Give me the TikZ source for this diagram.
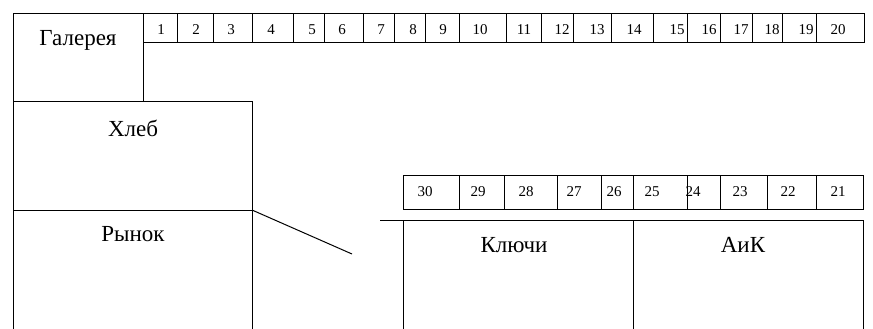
\documentclass[tikz,border=0pt]{standalone}
\usepackage{fontspec}
\setmainfont{Liberation Serif}
\begin{document}
\begin{tikzpicture}[x=1pt,y=-1pt,
  wall/.style={line width=1pt,black},
  lbl/.style={font=\fontsize{23}{26}\selectfont,inner sep=0pt},
  num/.style={font=\fontsize{15}{17}\selectfont,inner sep=0pt}]
\useasboundingbox[fill=white] (0,0) rectangle (873,329);
% Galereya block and left column
\draw[wall] (143,101) -- (143,14) -- (13,14) -- (13,329);
\draw[wall] (13,101) -- (252,101) -- (252,329);
\draw[wall] (13,210) -- (252,210);
\draw[wall] (252,210) -- (352,254);
% top row of cells
\draw[wall] (143,14) rectangle (864,43);
\foreach \x in {177,213,252,293,324,363,394,425,459,506,541,573,611,653,687,720,752,782,816}
  \draw[wall] (\x,14) -- (\x,43);
% bottom row of cells
\draw[wall] (403,175) rectangle (863,209);
\foreach \x in {459,504,557,601,633,687,720,767,816}
  \draw[wall] (\x,175) -- (\x,209);
% lower blocks
\draw[wall] (380,220) -- (863,220);
\draw[wall] (403,220) -- (403,329);
\draw[wall] (633,220) -- (633,329);
\draw[wall] (863,220) -- (863,329);
% labels
\node[lbl] (gal) at (78,40) {Галерея};
\node[lbl] (hleb) at (133,128) {Хлеб};
\node[lbl] (rynok) at (133,234) {Рынок};
\node[lbl] (klyuchi) at (514,245) {Ключи};
\node[lbl] (aik) at (743,245) {АиК};
% top numbers
\foreach \n/\x in {1/161,2/196,3/231,4/271,5/312,6/342,7/381,8/413,9/443,10/480,11/524,12/562,13/597,14/634,15/677,16/709,17/741,18/772,19/806,20/838}
  \node[num] (t\n) at (\x,30) {\n};
% bottom numbers
\foreach \n/\x in {30/425,29/478,28/526,27/574,26/614,25/652,24/693,23/740,22/788,21/838}
  \node[num] (b\n) at (\x,192) {\n};
\end{tikzpicture}
\end{document}
